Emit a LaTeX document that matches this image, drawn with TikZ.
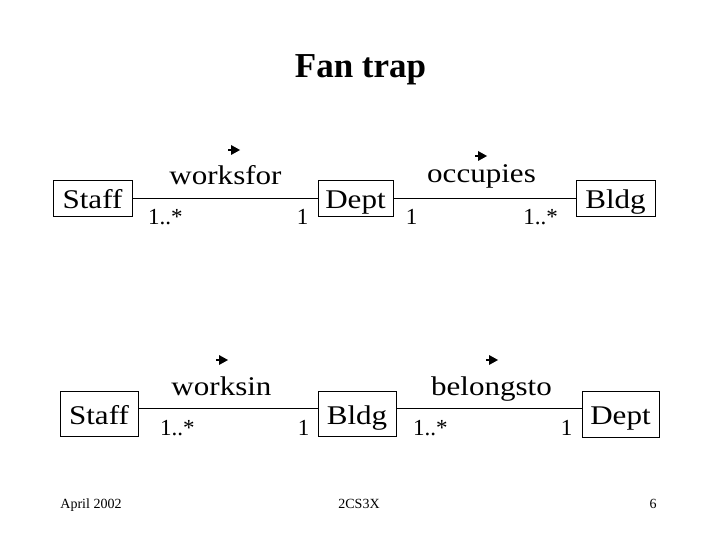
\documentclass[tikz,border=0pt]{standalone}
\usepackage{fontspec}
\setmainfont{Liberation Serif}
\newfontfamily\slidefont[FakeStretch=1.15]{Liberation Serif}
\usetikzlibrary{%
  arrows.meta,%
  positioning% wg. " of "
}

\begin{document}
\begin{tikzpicture}[x=1pt, y=-1pt]
    % Define block styles
    \tikzstyle{entity} = [rectangle, draw, line width=1pt, inner sep=0pt,
        text height=24.3pt, text depth=6.3pt, font=\slidefont\fontsize{27}{27}\selectfont]
    \tikzstyle{entitylow} = [entity, text height=27.3pt]
    \tikzstyle{rel} = [anchor=base, inner sep=0pt, font=\slidefont\fontsize{27}{27}\selectfont]
    \tikzstyle{mult} = [anchor=base, inner sep=0pt, font=\fontsize{23}{23}\selectfont]
    \tikzstyle{footer} = [anchor=base, inner sep=0pt, font=\fontsize{14}{14}\selectfont]
    \tikzstyle{line} = [draw, line width=1pt]
    \tikzstyle{dirtip} = [draw, line width=2.5pt, -{Triangle[length=9pt, width=10pt, line width=0pt]}]

    \useasboundingbox (0,0) rectangle (720,540);

    % Title
    \node [anchor=base, font=\bfseries\fontsize{35}{35}\selectfont] (title) at (360.5,78) {Fan trap};

    % Define nodes -- first row
    \node [entity, minimum width=79pt, minimum height=36pt] (staffA) at (92.5,199) {Staff};
    \node [entity, minimum width=75pt, minimum height=36pt] (deptA) at (355.5,199) {Dept};
    \node [entity, minimum width=79pt, minimum height=36pt] (bldgA) at (615.5,199) {Bldg};

    % Define nodes -- second row
    \node [entitylow, minimum width=78pt, minimum height=45pt] (staffB) at (99,413.5) {Staff};
    \node [entitylow, minimum width=78pt, minimum height=45pt] (bldgB) at (357,413.5) {Bldg};
    \node [entitylow, minimum width=77pt, minimum height=46pt] (deptB) at (620.5,414) {Dept};

    % Relationship names
    \node [rel] (worksfor) at (225.5,185) {worksfor};
    \node [rel] (occupies) at (481.5,183) {occupies};
    \node [rel] (worksin) at (221.5,395) {worksin};
    \node [rel] (belongsto) at (491.5,395) {belongsto};

    % Multiplicities
    \node [mult, anchor=base west] (mStaffA) at (148,225) {1..*};
    \node [mult] (mDeptA) at (302.5,225) {1};
    \node [mult] (mDeptA2) at (411.5,225) {1};
    \node [mult, anchor=base east] (mBldgA) at (558,225) {1..*};
    \node [mult, anchor=base west] (mStaffB) at (160,435) {1..*};
    \node [mult] (mBldgB) at (303.5,435) {1};
    \node [mult, anchor=base west] (mBldgB2) at (413,435) {1..*};
    \node [mult] (mDeptB) at (566.5,435) {1};

    % Footer
    \node [footer] (date) at (91,508) {April 2002};
    \node [footer] (course) at (359,508) {2CS3X};
    \node [footer] (page) at (653,508) {6};

    % Draw edges
    \path [line] (staffA) -- (deptA);
    \path [line] (deptA) -- (bldgA);
    \path [line] ([yshift=5.5pt]staffB.east) -- ([yshift=5.5pt]bldgB.west);
    \path [line] ([yshift=5.5pt]bldgB.east) -- ([yshift=6pt]deptB.west);

    % Reading direction
    \draw [dirtip] (228,150) -- (240,150);
    \draw [dirtip] (475,156) -- (487,156);
    \draw [dirtip] (216,360) -- (228,360);
    \draw [dirtip] (486,360) -- (498,360);

\end{tikzpicture}
\end{document}
